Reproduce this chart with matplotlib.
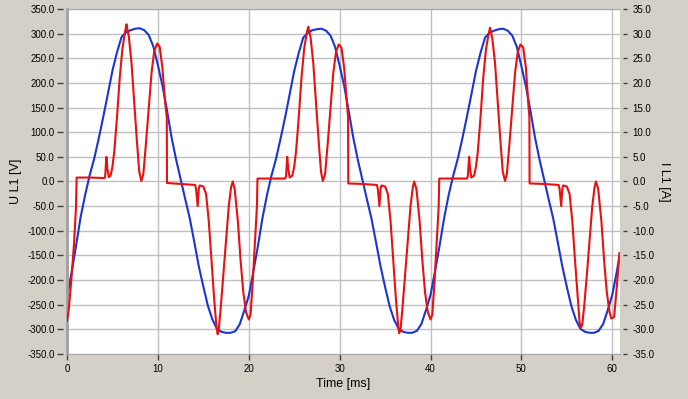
import numpy as np
import matplotlib
matplotlib.use('Agg')
import matplotlib.pyplot as plt
import matplotlib.ticker as ticker

plt.rcParams['font.family'] = ['Liberation Sans', 'DejaVu Sans']

#--------- data ---------
# voltage U L1 [V], sampled every 0.5 ms from 0 to 60.5 ms, plus the last point at 60.8 ms
t_u = np.arange(0, 60.6, 0.5)
u_l1 = [
    -235, -185, -130, -72, -27, 13, 47, 88, 132, 178, 225, 262, 293, 303, 307, 310, 311, 307, 297, 274,
    236, 195, 145, 90, 45, 5, -35, -74, -122, -172, -213, -252, -280, -299, -305, -307, -307, -304, -290, -262,
    -232, -183, -132, -75, -28, 12, 46, 87, 130, 177, 224, 261, 292, 302, 307, 309, 310, 306, 296, 273,
    235, 194, 143, 89, 44, 4, -36, -75, -123, -172, -214, -253, -281, -299, -305, -307, -307, -303, -289, -261,
    -230, -182, -130, -74, -27, 12, 46, 87, 131, 177, 224, 261, 292, 302, 306, 309, 310, 306, 296, 273,
    234, 193, 143, 89, 44, 4, -36, -75, -123, -172, -214, -253, -281, -299, -305, -307, -307, -303, -289, -261,
    -230, -183,
]
t_u_end = [60.8]
u_end = [-150]

# current I L1 [A], breakpoints of the trace
t_i_1 = [0.0, 0.18, 0.47, 0.77, 0.99, 1.06, 2.5, 4.1, 4.2, 4.33, 4.45, 4.6, 4.8, 5.0, 5.2, 5.5, 5.8, 6.1, 6.4,
         6.55, 6.65, 6.8, 7.1, 7.4, 7.7, 7.95, 8.18, 8.4, 8.7, 9.0, 9.3, 9.6, 9.94, 10.2, 10.5, 10.8, 10.98,
         11.0, 12.5, 14.1, 14.2, 14.38, 14.5, 14.6, 15.0, 15.3, 15.6, 15.9, 16.2, 16.45, 16.58, 16.7, 16.9,
         17.2, 17.5, 17.8, 18.05, 18.24, 18.45, 18.8, 19.1, 19.4, 19.7]
i_l1_1 = [-28.3, -26.2, -20.1, -12.7, -5.2, 0.8, 0.8, 0.7, 1.0, 5.0, 2.5, 0.9, 1.2, 3.0, 6.0, 13.0, 21.0, 27.0, 30.5,
          31.9, 30.8, 29.5, 24.0, 16.0, 8.0, 2.0, 0.1, 1.5, 8.0, 15.0, 22.0, 26.5, 28.0, 27.3, 23.0, 16.0, 13.0,
          -0.3, -0.5, -0.7, -1.5, -5.0, -1.5, -0.8, -1.0, -2.5, -8.0, -16.0, -24.0, -29.5, -31.0, -30.0, -26.0,
          -19.0, -12.0, -5.0, -1.2, 0.0, -1.5, -8.0, -16.0, -22.5, -26.5]
t_i_2 = [20.0, 20.2, 20.45, 20.7, 20.9, 20.96, 22.5, 24.0, 24.1, 24.23, 24.35, 24.5, 24.8, 25.0, 25.2, 25.5, 25.8,
         26.1, 26.4, 26.55, 26.65, 26.8, 27.1, 27.4, 27.7, 27.95, 28.15, 28.4, 28.7, 29.0, 29.3, 29.6, 29.9,
         30.2, 30.5, 30.8, 30.93, 30.95, 32.5, 34.1, 34.2, 34.38, 34.5, 34.6, 35.0, 35.3, 35.6, 35.9, 36.2,
         36.45, 36.55, 36.7, 36.9, 37.2, 37.5, 37.8, 38.05, 38.2, 38.45, 38.8, 39.1, 39.4, 39.7]
i_l1_2 = [-28.0, -27.0, -20.0, -11.5, -5.0, 0.6, 0.6, 0.6, 1.0, 5.0, 2.5, 0.8, 1.2, 3.0, 6.0, 13.0, 21.0,
          27.0, 30.3, 31.4, 30.5, 29.3, 24.0, 16.0, 8.0, 2.0, 0.1, 1.5, 8.0, 15.0, 22.0, 26.3, 27.8,
          27.2, 23.0, 16.0, 13.0, -0.4, -0.5, -0.7, -1.5, -5.0, -1.5, -0.8, -1.0, -2.5, -8.0, -16.0, -24.0,
          -29.5, -30.8, -30.0, -26.0, -19.0, -12.0, -5.0, -1.2, 0.0, -1.5, -8.0, -16.0, -22.5, -26.5]
t_i_3 = [40.0, 40.2, 40.45, 40.7, 40.9, 40.96, 42.5, 44.0, 44.1, 44.25, 44.35, 44.5, 44.8, 45.0, 45.2, 45.5, 45.8,
         46.1, 46.4, 46.55, 46.65, 46.8, 47.1, 47.4, 47.7, 47.95, 48.2, 48.4, 48.7, 49.0, 49.3, 49.6, 49.9,
         50.2, 50.5, 50.75, 50.88, 50.9, 52.5, 54.1, 54.2, 54.38, 54.5, 54.6, 55.0, 55.3, 55.6, 55.9, 56.2,
         56.4, 56.55, 56.7, 56.9, 57.2, 57.5, 57.8, 58.05, 58.2, 58.45, 58.8, 59.1, 59.4, 59.7, 59.9, 60.2,
         60.47, 60.8]
i_l1_3 = [-28.0, -27.0, -20.0, -11.5, -5.0, 0.6, 0.6, 0.6, 1.0, 5.0, 2.5, 0.8, 1.2, 3.0, 6.0, 13.0, 21.0,
          26.8, 30.0, 31.2, 30.3, 29.0, 24.0, 16.0, 8.0, 2.0, 0.1, 1.5, 8.0, 15.0, 22.0, 26.3, 27.8,
          27.2, 23.0, 16.0, 13.0, -0.4, -0.5, -0.7, -1.5, -5.0, -1.5, -0.8, -1.0, -2.5, -8.0, -16.0, -23.5,
          -28.5, -29.7, -29.0, -25.5, -19.0, -12.0, -5.0, -1.2, 0.0, -1.5, -8.0, -16.0, -22.5, -26.5, -27.8, -27.5,
          -22.0, -14.5]

t_i = t_i_1 + t_i_2 + t_i_3
i_l1 = i_l1_1 + i_l1_2 + i_l1_3

#--------- plotting ---------
W, H = 688, 399
fig = plt.figure(figsize=(W / 100, H / 100), dpi=100, facecolor='#d4d0c8')
ax1 = fig.add_axes([67 / W, 1 - 354 / H, 553 / W, 345 / H])
ax1.set_facecolor('white')

ax1.plot(list(t_u) + t_u_end, u_l1 + u_end, '-', color='#1a34d8', lw=1.5)

ax1.set_xlim(0, 60.85)
ax1.set_ylim(-350, 350)
ax1.set_xticks(np.arange(0, 61, 10))
ax1.set_yticks(np.arange(-350, 351, 50))
ax1.yaxis.set_major_formatter(ticker.FormatStrFormatter('%.1f'))
ax1.grid(color='#c0c0c0', lw=1)
ax1.set_axisbelow(True)

ax1.spines['left'].set_position(('outward', 3))
ax1.spines['left'].set_visible(False)
ax1.spines['right'].set_visible(False)
ax1.spines['top'].set_color('#a8a8a8')
ax1.spines['bottom'].set_color('#a8a8a8')
ax1.plot([0, 0], [0, 1], transform=ax1.transAxes, color='#a0a0a0', lw=2, clip_on=False)

ax1.tick_params(axis='y', direction='out', length=4, width=1, color='#404040', pad=2, labelsize=7)
ax1.tick_params(axis='x', direction='out', length=4, width=1, color='#404040', pad=3, labelsize=7)

ax2 = ax1.twinx()
ax2.plot(t_i, i_l1, '-', color='#e81010', lw=1.5)
ax2.set_ylim(-35, 35)
ax2.set_yticks(np.arange(-35, 36, 5))
ax2.yaxis.set_major_formatter(ticker.FormatStrFormatter('%.1f'))
for s in ['left', 'top', 'bottom']:
    ax2.spines[s].set_visible(False)
ax2.spines['right'].set_position(('outward', 2))
ax2.spines['right'].set_visible(False)
ax2.tick_params(axis='y', direction='out', length=3, width=1, color='#404040', pad=4, labelsize=7)

ax1.set_xlabel('Time [ms]', fontsize=9)
ax1.xaxis.set_label_coords(0.5, -0.07)
ax1.set_ylabel('U L1 [V]', fontsize=9)
ax1.yaxis.set_label_coords(-0.081, 0.5)
ax2.set_ylabel('I L1 [A]', fontsize=9, rotation=270, va='center')
ax2.yaxis.set_label_coords(1.08, 0.5)

fig.savefig('out.png', dpi=100, facecolor=fig.get_facecolor())
